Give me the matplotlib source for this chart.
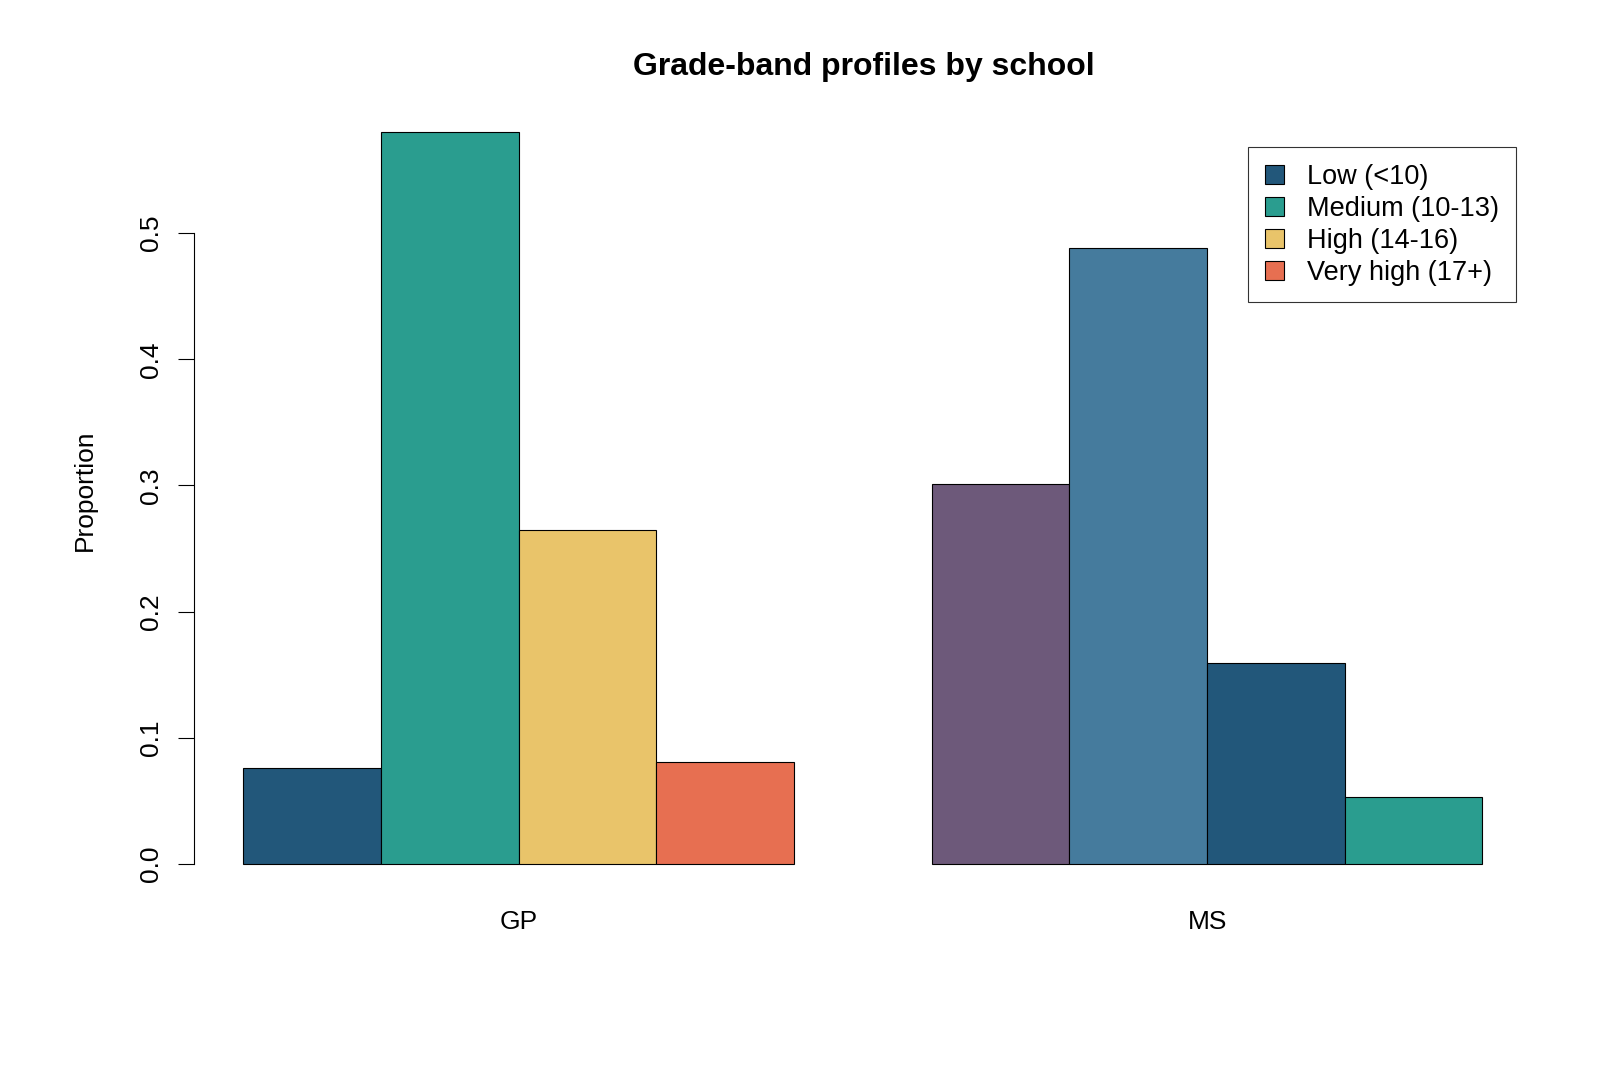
import numpy as np
from matplotlib import pyplot as plt

plt.rcParams['font.family'] = ['Liberation Sans', 'DejaVu Sans']

# data
schools = ["GP", "MS"]
bands = ["Low (<10)", "Medium (10-13)", "High (14-16)", "Very high (17+)"]
gp = [0.076, 0.580, 0.265, 0.081]
ms = [0.301, 0.488, 0.159, 0.053]

# palette gets recycled across the 8 bars (like R does)
palette = ["#22577A", "#2A9D8F", "#E9C46A", "#E76F51", "#6D597A", "#457B9D"]

fig = plt.figure(figsize=(16, 10.67), dpi=100)
ax = fig.add_axes([0.1212, 0.163, 0.8363, 0.7405])

k = 0
for g, vals in enumerate([gp, ms]):
	for i, v in enumerate(vals):
		x = 1 + g * 5 + i + 0.5
		ax.bar(x, v, width=1, color=palette[k % len(palette)], edgecolor="black", linewidth=0.8)
		k += 1

ax.set_xlim(0.64, 10.36)
ax.set_ylim(-0.0232, 0.6032)

for s in ["top", "right", "bottom"]:
	ax.spines[s].set_visible(False)
ax.spines["left"].set_bounds(0, 0.5)
ax.spines["left"].set_linewidth(0.8)

ax.set_yticks(np.arange(0, 0.51, 0.1))
ax.set_yticklabels(["0.0", "0.1", "0.2", "0.3", "0.4", "0.5"], rotation=90, va="center")
ax.tick_params(axis="y", length=11.5, width=0.8, pad=11, labelsize=19)
ax.set_xticks([3, 8])
ax.set_xticklabels(schools)
ax.tick_params(axis="x", length=0, pad=12, labelsize=19)

fig.text(85 / 1600, 1 - 490 / 1067, "Proportion", rotation=90, ha="center", va="center", fontsize=19)
fig.text(864 / 1600, 1 - 67 / 1067, "Grade-band profiles by school", ha="center", va="center",
	fontsize=23, fontweight="bold")

handles = [plt.Rectangle((0, 0), 1, 1, facecolor=palette[i], edgecolor="black", linewidth=0.8) for i in range(4)]
leg = fig.legend(handles, bands, loc="upper right", bbox_to_anchor=(1516 / 1600, 1 - 147 / 1067),
	fontsize=19.5, frameon=True, fancybox=False, handlelength=0.7, handleheight=0.7,
	handletextpad=0.85, labelspacing=0.22, borderpad=0.62, borderaxespad=0)
leg.get_frame().set_edgecolor("black")
leg.get_frame().set_linewidth(0.8)

plt.savefig("out.png", dpi=100)
